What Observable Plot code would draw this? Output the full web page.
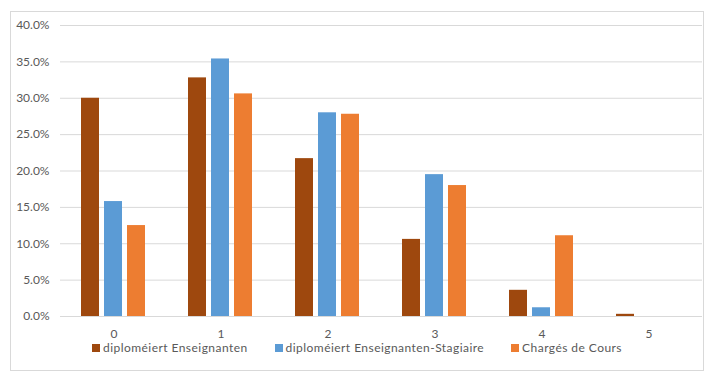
<!DOCTYPE html>
<html>
<head>
<meta charset="utf-8">
<script src="https://cdn.jsdelivr.net/npm/d3@7"></script>
<script src="https://cdn.jsdelivr.net/npm/@observablehq/plot@0.6"></script>
<style>
  html, body { margin: 0; padding: 0; background: #fff; }
  #wrap { position: relative; width: 717px; height: 387px; overflow: hidden; font-family: Lato, "Open Sans", sans-serif; }
  #border { position: absolute; left: 10px; top: 11px; width: 692px; height: 358px; border: 1px solid #d9d9d9; }
  #chart { position: absolute; left: 0; top: 0; }
  #legend { position: absolute; left: 10px; width: 694px; top: 341.7px; display: flex; justify-content: center; gap: 27px; font-size: 12px; line-height: 12px; letter-spacing: 0.45px; color: #595959; white-space: nowrap; }
  .item { display: block; }
  .sw { display: inline-block; width: 8px; height: 8px; margin-right: 3px; vertical-align: baseline; }
</style>
</head>
<body>
<div id="wrap">
  <div id="border"></div>
  <div id="chart"></div>
  <div id="legend"></div>
</div>
<script>
const categories = ["0", "1", "2", "3", "4", "5"];
const seriesNames = ["diploméiert Enseignanten", "diploméiert Enseignanten-Stagiaire", "Chargés de Cours"];
const enseignanten = [0.300, 0.328, 0.217, 0.106, 0.036, 0.003];
const stagiaire = [0.158, 0.354, 0.280, 0.195, 0.012, 0.000];
const charges = [0.125, 0.306, 0.278, 0.180, 0.111, 0.000];
const yTicks = [0, 0.05, 0.10, 0.15, 0.20, 0.25, 0.30, 0.35, 0.40];
const colors = ["#9E480E", "#5B9BD5", "#ED7D31"];

const valuesBySeries = [enseignanten, stagiaire, charges];
const data = [];
categories.forEach((c, i) => {
  seriesNames.forEach((s, j) => {
    data.push({cat: c, series: s, value: valuesBySeries[j][i]});
  });
});

const chart = Plot.plot({
  width: 717,
  height: 340,
  marginLeft: 58,
  marginRight: 14,
  marginTop: 25,
  marginBottom: 24,
  style: {fontFamily: "Lato, 'Open Sans', sans-serif", fontSize: "12px", color: "#595959", background: "transparent", overflow: "visible"},
  fx: {domain: categories, paddingInner: 0, paddingOuter: 0, label: null, tickSize: 0, tickPadding: 13, axis: "bottom"},
  x: {domain: seriesNames, paddingInner: 0.2, paddingOuter: 0.868, axis: null},
  y: {domain: [0, 0.4], axis: null},
  color: {domain: seriesNames, range: colors},
  marks: [
    Plot.gridY(yTicks, {stroke: "#d9d9d9", strokeOpacity: 1}),
    Plot.axisY(yTicks, {tickFormat: d3.format(".1%"), tickSize: 0, tickPadding: 11, label: null}),
    Plot.barY(data, {fx: "cat", x: "series", y: "value", fill: "series"})
  ]
});
document.getElementById("chart").appendChild(chart);

const legend = document.getElementById("legend");
seriesNames.forEach((s, j) => {
  const item = document.createElement("div");
  item.className = "item";
  const sw = document.createElement("span");
  sw.className = "sw";
  sw.style.background = colors[j];
  const t = document.createElement("span");
  t.textContent = s;
  item.appendChild(sw);
  item.appendChild(t);
  legend.appendChild(item);
});
</script>
</body>
</html>
